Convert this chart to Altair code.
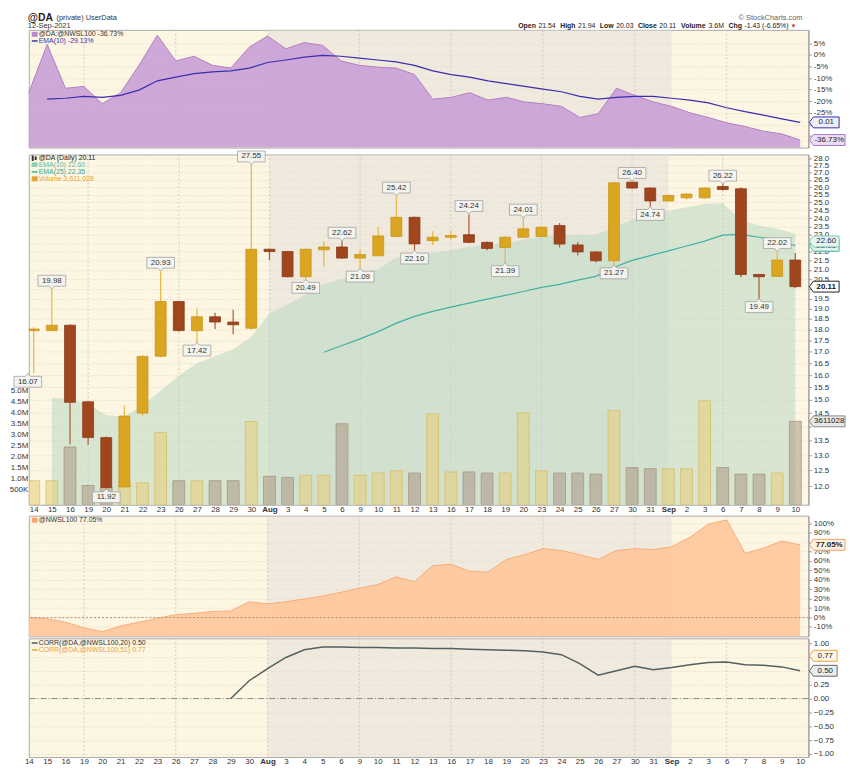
import altair as alt
import pandas as pd

# ---------------- data ----------------
labels = ["14", "15", "16", "19", "20", "21", "22", "23", "26", "27", "28", "29", "30", "Aug",
          "3", "4", "5", "6", "9", "10", "11", "12", "13", "16", "17", "18", "19", "20",
          "23", "24", "25", "26", "27", "30", "31", "Sep", "2", "3", "6", "7", "8", "9", "10"]

open_p = [17.95, 17.95, 18.2, 14.93, 13.61, 11.98, 14.5, 16.8, 19.35, 17.94,
          18.6, 18.35, 18.06, 22.15, 22.02, 20.63, 22.12, 22.28, 21.65, 21.78,
          22.9, 24.06, 22.65, 22.85, 23.0, 22.55, 22.25, 22.85, 22.9, 23.55,
          22.4, 22.0, 21.5, 26.35, 25.95, 25.1, 25.3, 25.3, 26.05, 25.9,
          20.75, 20.65, 21.54]
high_p = [18.1, 19.98, 18.25, 14.95, 13.65, 14.79, 16.85, 20.93, 19.38, 19.02,
          18.8, 18.94, 27.55, 22.2, 22.05, 22.2, 22.61, 22.62, 22.15, 23.47,
          25.42, 24.1, 23.2, 23.2, 24.24, 22.6, 22.9, 24.01, 23.5, 23.7,
          22.55, 22.05, 26.35, 26.40, 26.0, 25.5, 25.6, 26.0, 26.22, 26.0,
          20.78, 22.02, 21.94]
low_p = [16.07, 17.93, 13.38, 13.36, 11.92, 11.95, 14.4, 16.75, 17.9, 17.42,
         18.02, 17.78, 18.0, 21.54, 20.6, 20.49, 21.15, 21.6, 21.09, 21.75,
         22.85, 22.10, 22.4, 22.7, 22.5, 22.1, 21.39, 22.8, 22.85, 22.25,
         21.8, 21.4, 21.27, 25.9, 24.74, 25.05, 25.2, 25.25, 25.8, 20.6,
         19.49, 20.6, 20.03]
close_p = [18.02, 18.2, 14.91, 13.61, 11.96, 14.39, 16.79, 19.35, 17.95, 18.6,
           18.35, 18.22, 22.15, 22.02, 20.63, 22.15, 22.28, 21.65, 21.85, 22.93,
           24.06, 22.46, 22.85, 22.95, 22.55, 22.2, 22.85, 23.35, 23.45, 22.45,
           22.0, 21.5, 26.3, 25.95, 25.1, 25.45, 25.55, 25.95, 25.85, 20.75,
           20.63, 21.54, 20.11]
volume_m = [0.9, 0.9, 2.44, 0.68, 0.59, 0.85, 0.8, 3.1, 0.9, 0.9,
            0.9, 0.9, 3.6, 1.1, 1.05, 1.15, 1.15, 3.5, 1.15, 1.25,
            1.35, 1.25, 3.95, 1.3, 1.3, 1.25, 1.25, 4.0, 1.35, 1.25,
            1.25, 1.2, 4.1, 1.5, 1.45, 1.45, 1.45, 4.55, 1.5, 1.2,
            1.2, 1.25, 3.611028]
ratio_pct = [-16.3, 4.5, -14.4, -13.6, -21.1, -16.3, -4.5, 8.5, -2.6, -0.6,
             -4.5, -5.7, 3.3, 8.1, 2.6, 5.3, 4.1, -2.6, -4.5, -5.3,
             -5.7, -8.5, -19.1, -18.3, -16.3, -19.5, -18.3, -20.3, -21.1, -22.2,
             -27.0, -25.4, -14.4, -17.5, -20.3, -22.2, -25.0, -27.0, -29.3, -30.9,
             -32.9, -34.1, -36.73]
ratio_ema = [None, -19.1, -18.7, -17.9, -18.3, -17.5, -15.2, -11.2, -9.6, -8.1,
             -7.3, -6.9, -5.7, -3.3, -2.2, -1.0, -0.2, -0.6, -1.4, -2.2,
             -3.0, -4.5, -6.9, -8.5, -9.6, -11.2, -12.4, -13.6, -14.8, -15.9,
             -17.9, -19.1, -18.3, -17.9, -17.9, -18.7, -19.5, -20.7, -22.8, -24.5,
             -26.0, -27.6, -29.13]
ema10 = [None, 15.09, 15.05, 14.83, 14.43, 14.36, 14.8, 15.37, 15.97, 16.5,
         16.8, 17.1, 17.67, 18.77, 19.2, 19.7, 20.25, 20.5, 20.8, 21.05,
         21.7, 21.8, 21.95, 22.1, 22.3, 22.4, 22.5, 22.7, 22.9, 23.0,
         23.0, 23.0, 23.45, 23.9, 24.2, 24.45, 24.7, 24.9, 24.95, 23.9,
         23.55, 23.35, 23.05]
ema25 = [None] * 16 + [16.97, 17.27, 17.57, 17.9, 18.3, 18.62, 18.86, 19.07, 19.27,
                       19.47, 19.66, 19.86, 20.07, 20.23, 20.45, 20.65, 21.14, 21.52,
                       21.79, 22.06, 22.34, 22.62, 22.97, 23.02, 22.85, 22.68, 22.35]
nwsl_pct = [0, -1.4, -5, -11, -15, -9, -5, -1, 3, 4.4,
            6.4, 7, 16.6, 14.6, 16.6, 19.7, 22.8, 26.8, 31, 35,
            43, 38, 55, 56.4, 49, 48, 61.5, 66.6, 73, 71,
            66.6, 61.5, 71, 73, 72, 75, 85, 99, 103.4, 68,
            73.5, 81, 77.05]
corr20 = [None] * 11 + [0.0, 0.32, 0.54, 0.74, 0.88, 0.93, 0.93, 0.92, 0.92, 0.91,
                        0.91, 0.90, 0.90, 0.89, 0.88, 0.87, 0.86, 0.84, 0.79, 0.63,
                        0.42, 0.50, 0.58, 0.52, 0.56, 0.61, 0.65, 0.66, 0.61, 0.60,
                        0.57, 0.50]
hi_i = [1, 7, 12, 17, 20, 24, 27, 33, 38, 41]
hi_v = [19.98, 20.93, 27.55, 22.62, 25.42, 24.24, 24.01, 26.40, 26.22, 22.02]
lo_i = [0, 4, 9, 15, 18, 21, 26, 32, 34, 40]
lo_v = [16.07, 11.92, 17.42, 20.49, 21.09, 22.10, 21.39, 21.27, 24.74, 19.49]
mondays = [3, 8, 13, 18, 23, 28, 33, 38]
aug_band = [13.0, 35.0]

# ---------------- layout / style ----------------
FONT = "Liberation Sans"
BG = "#FDF6E3"
UP, DOWN = "#DAA520", "#A0461F"
W = 788
H1, H2, H3, H4 = 119, 354, 122, 120
XS = alt.Scale(domain=[0, 42.45], nice=False, zero=False)

n = len(labels)
df = pd.DataFrame({
    "i": list(range(n)), "open": open_p, "high": high_p, "low": low_p, "close": close_p,
    "vol": [v * 1e6 for v in volume_m], "ratio": ratio_pct, "rema": ratio_ema,
    "ema10": ema10, "ema25": ema25, "nwsl": nwsl_pct, "corr": corr20,
})
df["dir"] = ["up" if c >= o else "down" for o, c in zip(open_p, close_p)]
one = pd.DataFrame({"k": [0]})
band_df = pd.DataFrame({"a": [aug_band[0]], "b": [aug_band[1]]})
mon_df = pd.DataFrame({"m": mondays})
hi_df = pd.DataFrame({"i": hi_i, "v": hi_v, "t": [f"{v:.2f}" for v in hi_v]})
lo_df = pd.DataFrame({"i": lo_i, "v": lo_v, "t": [f"{v:.2f}" for v in lo_v]})

lab_arr = "[" + ",".join("'" + s + "'" for s in labels) + "]"


def xaxis():
    return alt.Axis(values=list(range(n)), labelExpr=lab_arr + "[datum.value]",
                    labelFontSize=8, labelPadding=1, ticks=False, domain=False, grid=False,
                    labelFontWeight=alt.condition("datum.value == 13 || datum.value == 35",
                                                  alt.value("bold"), alt.value("normal")),
                    labelOverlap=False, labelFlush=False, labelColor="#333", title=None)


def xenc(field="i", xa=None):
    return alt.X(f"{field}:Q", scale=XS, axis=xa, title=None)


def band(h, xa):
    return alt.Chart(band_df).mark_rect(color="#E0DCD8", opacity=0.45).encode(
        x=xenc("a", xa), x2="b:Q", y=alt.value(0), y2=alt.value(h))


def vgrid(h, xa):
    return alt.Chart(mon_df).mark_rule(color="#CDC3AE", strokeDash=[2, 2], strokeWidth=0.8).encode(
        x=xenc("m", xa), y=alt.value(0), y2=alt.value(h))


def txt(s, x, y, size=7, color="#333", weight="normal", align="left", font=FONT):
    return alt.Chart(one).mark_text(text=s, font=font, fontSize=size, color=color,
                                    fontWeight=weight, align=align, baseline="middle").encode(
        x=alt.value(x), y=alt.value(y))


def icon(x1, x2, y1, y2, color):
    return alt.Chart(one).mark_rect(color=color).encode(
        x=alt.value(x1), x2=alt.value(x2), y=alt.value(y1), y2=alt.value(y2))


def tag(value, text, scale, yaxis, stroke, fill, tcolor="#222", weight="normal", w=34):
    r = w / 2.0
    hh = 5.5 / r
    p = 4.0 / r
    path = f"M0,0 L{p:.3f},{-hh:.3f} H2 V{hh:.3f} H{p:.3f} Z"
    d = pd.DataFrame({"v": [value], "t": [text]})
    y = alt.Y("v:Q", scale=scale, axis=yaxis, title=None)
    pt = alt.Chart(d).mark_point(shape=path, size=w * w, filled=True, fill=fill, stroke=stroke,
                                 strokeWidth=1, opacity=1).encode(x=alt.value(W + 1), y=y)
    tx = alt.Chart(d).mark_text(font=FONT, fontSize=8, color=tcolor, fontWeight=weight,
                                align="center", baseline="middle").encode(
        x=alt.value(W + 1 + (w + 4) / 2.0), y=y, text="t:N")
    return [pt, tx]


def callouts(d, scale, yaxis, xa, up=True, w=28, h=11, gap=3):
    r = w / 2.0
    g, t, p = gap / r, (gap + h) / r, 2.5 / r
    s = -1 if up else 1
    path = f"M0,0 L{-p:.3f},{s * g:.3f} H-1 V{s * t:.3f} H1 V{s * g:.3f} H{p:.3f} Z"
    xoff = {"expr": "datum.i == 0 ? -6 : 0"}
    y = alt.Y("v:Q", scale=scale, axis=yaxis, title=None)
    pt = alt.Chart(d).mark_point(shape=path, size=w * w, filled=True, fill="#F3F3EF",
                                 stroke="#A0A0A0", strokeWidth=0.8, opacity=1,
                                 xOffset=xoff).encode(x=xenc("i", xa), y=y)
    tx = alt.Chart(d).mark_text(font=FONT, fontSize=8, color="#333", align="center",
                                baseline="middle", dy=s * (gap + h / 2.0),
                                xOffset=xoff).encode(x=xenc("i", xa), y=y, text="t:N")
    return [pt, tx]


# ---------------- panel 1 : ratio ----------------
ys1 = alt.Scale(domain=[-40, 10.8], nice=False, zero=False)
ax1 = alt.Axis(orient="right", values=list(range(-35, 10, 5)),
               labelExpr="(datum.value == -30 || datum.value == -35) ? '' : datum.value + '%'",
               grid=True, title=None, labelOverlap=False)
p1_layers = [
    band(H1, None), vgrid(H1, None),
    alt.Chart(df).mark_area(color="#C59BD6", opacity=0.85,
                            line={"color": "#B07FC4", "strokeWidth": 1, "opacity": 1}).encode(
        x=xenc(), y=alt.Y("ratio:Q", scale=ys1, axis=ax1, title=None), y2=alt.datum(-40)),
    alt.Chart(df).mark_line(color="#3B2DB0", strokeWidth=1.2).encode(
        x=xenc(), y=alt.Y("rema:Q", scale=ys1, axis=ax1, title=None)),
    icon(3, 9, 2, 7, "#B68ACB"),
    txt("@DA:@NWSL100 -36.73%", 10, 4.5, color="#333"),
    icon(3, 9, 10.5, 12, "#3B2DB0"),
    txt("EMA(10) -29.13%", 10, 11.5, color="#3B2DB0"),
    # header
    txt("@DA", -1, -12, size=10.5, weight="bold", color="#222"),
    txt("(private) UserData", 28, -12, size=7.5, color="#333"),
    txt("12-Sep-2021", -1, -3.5, size=7.5, color="#333"),
    txt("\u00a9 StockCharts.com", W - 6, -12, size=7.5, color="#666", align="right"),
]
hdr = [("Open", 494.7, True), ("21.54", 515.1, False), ("High", 537.1, True), ("21.94", 555.2, False),
       ("Low", 577.2, True), ("20.03", 593.7, False), ("Close", 615.7, True), ("20.11", 637.3, False),
       ("Volume", 659.3, True), ("3.6M", 687.1, False), ("Chg", 707.2, True), ("-1.43 (-6.65%)", 723.3, False)]
for s, x, b in hdr:
    p1_layers.append(txt(s, x, -3.5, size=7, color="#222", weight="bold" if b else "normal"))
p1_layers.append(txt("\u25bc", 770, -3.5, size=6, color="#D03020"))
p1_layers += tag(-29.13, "0.01", ys1, ax1, "#3030A8", "#EEEEFA", "#222", w=30)
p1_layers += tag(-36.73, "-36.73%", ys1, ax1, "#A878C8", "#EEDDF5", "#222", w=36)
P1 = alt.layer(*p1_layers).properties(width=W, height=H1)

# ---------------- panel 2 : price + volume ----------------
ps = alt.Scale(type="log", domain=[11.44, 28.3], nice=False, zero=False)
vs = alt.Scale(domain=[-0.2e6, 15.8e6], nice=False, zero=False)
pax = alt.Axis(orient="right", values=[12 + 0.5 * k for k in range(33)],
               labelExpr="(datum.value == 22.5 || datum.value == 20 || datum.value == 14) ? '' : format(datum.value, '.1f')",
               grid=True, title=None, labelOverlap=False)
vax = alt.Axis(orient="left", values=[5e5 * k for k in range(1, 11)], grid=False, ticks=False,
               domain=False, labelPadding=1, labelFontSize=8, title=None, labelOverlap=False,
               labelExpr="datum.value >= 1000000 ? format(datum.value/1000000, '.1f') + 'M' : format(datum.value/1000, 'd') + 'K'")
XA2 = xaxis()

bg = alt.layer(
    band(H2, XA2), vgrid(H2, XA2),
    alt.Chart(df).mark_area(color="#B9D9C3", opacity=0.55).encode(
        x=xenc("i", XA2), y=alt.Y("ema10:Q", scale=ps, axis=None, title=None), y2=alt.datum(11.44)),
)
vol_layers = [
    alt.Chart(df).mark_bar(size=12, clip=True, strokeWidth=0.8).encode(
        x=xenc("i", XA2),
        y=alt.Y("vol:Q", scale=vs, axis=vax, title=None),
        y2=alt.datum(-0.2e6),
        fill=alt.condition("datum.dir == 'up'", alt.value("rgba(230,206,120,0.55)"), alt.value("rgba(170,152,132,0.55)")),
        stroke=alt.condition("datum.dir == 'up'", alt.value("#D9BE6A"), alt.value("#A89682"))),
]
vol_layers += tag(3611028, "3611028", vs, vax, "#8A8A8A", "#E6E6E2", "#222", w=36)
vol = alt.layer(*vol_layers)

fg_layers = [
    alt.Chart(df).mark_line(color="#3FB2A2", strokeWidth=1.2).encode(
        x=xenc("i", XA2), y=alt.Y("ema25:Q", scale=ps, axis=pax, title=None)),
    alt.Chart(df).mark_rule(strokeWidth=1.3, clip=True).encode(
        x=xenc("i", XA2), y=alt.Y("low:Q", scale=ps, axis=pax, title=None), y2="high:Q",
        color=alt.condition("datum.dir == 'up'", alt.value("#E6BA52"), alt.value("#B2643F"))),
    alt.Chart(df).mark_bar(size=11, strokeWidth=0.8, clip=True).encode(
        x=xenc("i", XA2), y=alt.Y("open:Q", scale=ps, axis=pax, title=None), y2="close:Q",
        fill=alt.condition("datum.dir == 'up'", alt.value(UP), alt.value(DOWN)),
        stroke=alt.condition("datum.dir == 'up'", alt.value("#C8951A"), alt.value("#8A3A18"))),
]
fg_layers += callouts(hi_df, ps, pax, XA2, up=True)
fg_layers += callouts(lo_df, ps, pax, XA2, up=False)
fg_layers += tag(22.35, "22.35", ps, pax, "#3FB2A2", "#E2F2EC", "#226", w=30)
fg_layers += tag(22.60, "22.60", ps, pax, "#7CC8AE", "#E6F4EC", "#226", w=30)
fg_layers += tag(20.11, "20.11", ps, pax, "#222", "#FFFFFF", "#111", weight="bold", w=30)
fg_layers += [
    icon(3, 5, 1, 6.5, "#333"), icon(6, 8, 2, 5.5, "#333"),
    txt("@DA (Daily) 20.11", 10, 3.5, color="#222"),
    icon(3, 9, 8, 12.5, "#8CCDB5"),
    txt("EMA(10) 22.60", 10, 10.5, color="#5DB9A2"),
    icon(3, 9, 16.8, 18.3, "#3FB2A2"),
    txt("EMA(25) 22.35", 10, 17.5, color="#33A897"),
    icon(3, 9, 22, 27, "#E2A534"),
    txt("Volume 3,611,028", 10, 24.5, color="#E2A534"),
]
fg = alt.layer(*fg_layers)
P2 = alt.layer(bg, vol, fg).resolve_scale(y="independent").properties(width=W, height=H2)

# ---------------- panel 3 : @NWSL100 ----------------
ys3 = alt.Scale(domain=[-20, 108], nice=False, zero=False)
ax3 = alt.Axis(orient="right", values=list(range(-10, 101, 10)),
               labelExpr="datum.value == 80 ? '' : datum.value + '%'",
               grid=True, title=None, labelOverlap=False)
p3_layers = [
    band(H3, None), vgrid(H3, None),
    alt.Chart(df).mark_area(color="#FFC59A", opacity=0.88,
                            line={"color": "#F6AC78", "strokeWidth": 1, "opacity": 1}).encode(
        x=xenc(), y=alt.Y("nwsl:Q", scale=ys3, axis=ax3, title=None), y2=alt.datum(-20)),
    alt.Chart(one).mark_rule(color="#A88C6C", strokeDash=[2, 2], strokeWidth=0.9).encode(
        y=alt.Y(datum=0, scale=ys3, axis=ax3, title=None)),
    icon(3, 9, 2, 7, "#F6A36C"),
    txt("@NWSL100 77.05%", 10, 4.5, color="#333"),
]
p3_layers += tag(77.05, "77.05%", ys3, ax3, "#F0A060", "#FFF1E2", "#222", weight="bold", w=36)
P3 = alt.layer(*p3_layers).properties(width=W, height=H3)

# ---------------- panel 4 : correlation ----------------
ys4 = alt.Scale(domain=[-1.056, 1.085], nice=False, zero=False)
ax4 = alt.Axis(orient="right", values=[-1, -0.75, -0.5, -0.25, 0, 0.25, 0.5, 0.75, 1],
               labelExpr="(datum.value == 0.75 || datum.value == 0.5) ? '' : format(datum.value, '.2f')",
               grid=True, title=None, labelOverlap=False)
XA4 = xaxis()
p4_layers = [
    band(H4, XA4), vgrid(H4, XA4),
    alt.Chart(one).mark_rule(color="#8C8C8C", strokeDash=[6, 2, 1, 2], strokeWidth=1).encode(
        y=alt.Y(datum=0, scale=ys4, axis=ax4, title=None)),
    alt.Chart(df).mark_line(color="#526060", strokeWidth=1.5).encode(
        x=xenc("i", XA4), y=alt.Y("corr:Q", scale=ys4, axis=ax4, title=None)),
    icon(3, 9, 4, 5.5, "#526060"),
    txt("CORR(@DA,@NWSL100,20) 0.50", 10, 4.5, color="#333"),
    icon(3, 9, 11, 12.5, "#E8A23C"),
    txt("CORR(@DA,@NWSL100,51) 0.77", 10, 12, color="#E8A23C"),
]
p4_layers += tag(0.77, "0.77", ys4, ax4, "#E8A23C", "#FFF6E6", "#222", w=28)
p4_layers += tag(0.50, "0.50", ys4, ax4, "#666666", "#ECECEC", "#222", w=28)
P4 = alt.layer(*p4_layers).properties(width=W, height=H4)

chart = alt.vconcat(P1, P2, P3, P4, spacing=0).properties(
    padding={"left": 0, "right": 0, "top": 0, "bottom": 0}
).configure_view(fill=BG, stroke="#A9A9A9", strokeWidth=1).configure_axis(
    labelFont=FONT, labelFontSize=8, labelColor="#333", domainColor="#999999",
    tickColor="#999999", tickSize=3, labelPadding=2, gridColor="#D8CFBC",
    gridDash=[1, 2], gridWidth=0.8
)

chart.save("out.html", embed_options={"renderer": "svg", "actions": False})
